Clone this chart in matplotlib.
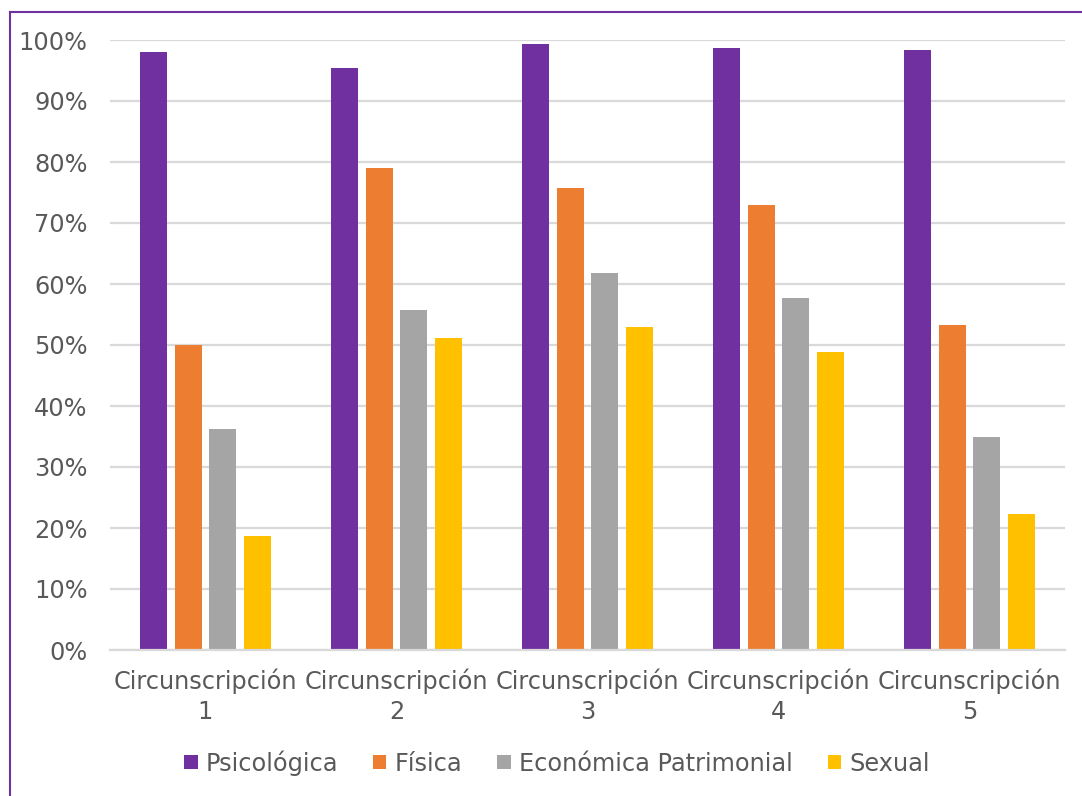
import matplotlib
matplotlib.use("Agg")
import matplotlib.pyplot as plt
import numpy as np
from matplotlib.patches import Patch
from matplotlib.lines import Line2D
from matplotlib.ticker import FuncFormatter, MultipleLocator

categories = ["Circunscripción\n1", "Circunscripción\n2", "Circunscripción\n3",
              "Circunscripción\n4", "Circunscripción\n5"]
series_names = ["Psicológica", "Física", "Económica Patrimonial", "Sexual"]
psicologica = [98.0, 95.4, 99.3, 98.7, 98.4]
fisica = [50.0, 79.0, 75.7, 73.0, 53.3]
economica = [36.2, 55.7, 61.8, 57.7, 34.9]
sexual = [18.7, 51.1, 53.0, 48.9, 22.3]
colors = ["#7030A0", "#ED7D31", "#A5A5A5", "#FFC000"]

plt.rcParams['font.family'] = ['DejaVu Sans']
text_color = "#595959"
fs = 17.3

fig = plt.figure(figsize=(10.82, 7.96), dpi=100)
ax = fig.add_axes([110/1082, 1-650/796, 955/1082, 610/796])

x = np.arange(len(categories))
width = 0.141
step = 0.181
offsets = [-1.5*step, -0.5*step, 0.5*step, 1.5*step]
for vals, off, c in zip([psicologica, fisica, economica, sexual], offsets, colors):
    ax.bar(x + off, np.array(vals)/100, width=width, color=c, zorder=3)

ax.set_xlim(-0.5, len(categories)-0.5)
ax.set_ylim(0, 1.0)
ax.yaxis.set_major_locator(MultipleLocator(0.1))
ax.yaxis.set_major_formatter(FuncFormatter(lambda v, p: f"{int(round(v*100))}%"))
ax.grid(axis='y', color="#D9D9D9", linewidth=1.6, zorder=0)
ax.set_axisbelow(True)
for s in ["left", "right", "top"]:
    ax.spines[s].set_visible(False)
ax.spines["bottom"].set_color("#D9D9D9")
ax.spines["bottom"].set_linewidth(1.6)
ax.spines["bottom"].set_zorder(4)
ax.set_xticks(x)
ax.set_xticklabels(categories, fontsize=fs, color=text_color, linespacing=1.35)
ax.tick_params(axis='x', length=0, pad=13)
ax.tick_params(axis='y', length=0, pad=16, labelsize=fs, labelcolor=text_color)

handles = [Patch(facecolor=c, edgecolor='none') for c in colors]
fig.legend(handles, series_names, loc='center', bbox_to_anchor=(557/1082, 1-763/796),
           ncol=4, frameon=False, fontsize=fs, labelcolor=text_color,
           handlelength=0.55, handleheight=0.55, handletextpad=0.35, columnspacing=1.45)

# border (top and left visible)
fig.add_artist(Line2D([10/1082, 10/1082], [0, 1-12/796], transform=fig.transFigure,
                      color="#7030A0", linewidth=1.5))
fig.add_artist(Line2D([10/1082, 1], [1-12/796, 1-12/796], transform=fig.transFigure,
                      color="#7030A0", linewidth=1.5))

fig.savefig("out.png", dpi=100)
